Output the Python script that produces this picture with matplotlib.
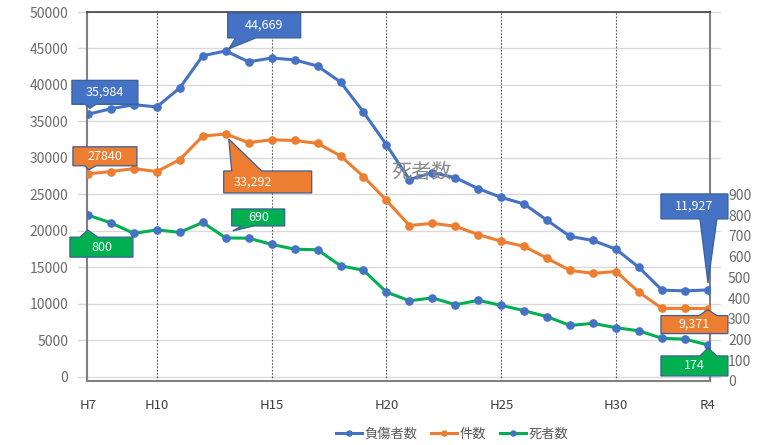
import matplotlib
matplotlib.use("Agg")
import matplotlib.pyplot as plt
from matplotlib.patches import Polygon
from matplotlib.transforms import IdentityTransform

plt.rcParams["font.family"] = ["Noto Sans CJK JP", "DejaVu Sans"]

# ---- data -------------------------------------------------------------
years = ["H7", "H8", "H9", "H10", "H11", "H12", "H13", "H14", "H15", "H16",
         "H17", "H18", "H19", "H20", "H21", "H22", "H23", "H24", "H25", "H26",
         "H27", "H28", "H29", "H30", "R1", "R2", "R3", "R4"]
shown_years = ["H7", "H10", "H15", "H20", "H25", "H30", "R4"]
divider_years = ["H10", "H15", "H20", "H25", "H30"]

injured = [35984, 36750, 37300, 37000, 39600, 44000, 44669, 43170, 43700, 43440,
           42600, 40400, 36300, 31800, 27050, 28000, 27300, 25800, 24600, 23700,
           21450, 19260, 18700, 17500, 15000, 11900, 11800, 11927]
accidents = [27840, 28140, 28550, 28140, 29780, 33000, 33292, 32100, 32500, 32400,
             32000, 30300, 27450, 24200, 20750, 21050, 20650, 19500, 18600, 17900,
             16250, 14600, 14200, 14450, 11600, 9400, 9400, 9371]
deaths = [800, 763, 712, 729, 717, 765, 690, 689, 659, 636,
          633, 556, 534, 429, 387, 401, 368, 389, 365, 339,
          310, 268, 278, 257, 242, 206, 202, 174]

left_ticks = list(range(0, 50001, 5000))
right_ticks = list(range(0, 901, 100))

BLUE = "#4472C4"
ORANGE = "#ED7D31"
GREEN = "#00B050"
EDGE = "#3A5F9A"

W, H = 769, 445
fig = plt.figure(figsize=(W / 100, H / 100), dpi=100)
L, R, T, B = 87, 710, 12, 381
ax = fig.add_axes([L / W, 1 - B / H, (R - L) / W, (B - T) / H])
ax2 = ax.twinx()

x = list(range(len(years)))

ax.set_xlim(-0.04, len(years) - 1 + 0.09)
ax.set_ylim(-548, 50000)
ax2.set_ylim(0, 1780)

# horizontal grid reaching a little past the plot frame
for t in left_ticks:
    ax.plot([-0.0145, 1.016], [t, t], transform=ax.get_yaxis_transform(),
            color="#D9D9D9", lw=1.0, clip_on=False, zorder=0.5)
for yr in divider_years:
    ax.axvline(years.index(yr), color="#595959", lw=0.8,
               linestyle=(0, (1.5, 1.5)), zorder=0.6)

ax.plot(x, injured, color=BLUE, lw=2.2, marker="o", ms=5.2,
        mfc=BLUE, mec=BLUE, zorder=3, label="負傷者数")
ax.plot(x, accidents, color=ORANGE, lw=2.2, marker="o", ms=5.2,
        mfc=ORANGE, mec=ORANGE, zorder=3, label="件数")
ax2.plot(x, deaths, color=GREEN, lw=2.2, marker="o", ms=5.2,
         mfc=BLUE, mec=BLUE, zorder=3, label="死者数")

# axes styling
ax.set_xticks([years.index(y) for y in shown_years])
ax.set_xticklabels(shown_years)
ax.tick_params(axis="x", length=0, pad=13, labelsize=9.5, labelcolor="#404040")
ax.set_yticks(left_ticks)
ax.tick_params(axis="y", length=0, pad=13.5, labelsize=10, labelcolor="#6B6B6B")
ax2.set_yticks(right_ticks)
ax2.tick_params(axis="y", length=0, pad=13, labelsize=10, labelcolor="#6B6B6B")

for s in ax2.spines.values():
    s.set_visible(False)
ax.spines["top"].set_color("#404040")
ax.spines["top"].set_linewidth(1.2)
for side in ("left", "right", "bottom"):
    ax.spines[side].set_color("#808080")
    ax.spines[side].set_linewidth(1.5)

# stray axis title inside the plot
fig.text(422 / W, 1 - 173 / H, "死者数", fontsize=14.5, color="#8A8A8A",
         ha="center", va="center")

# legend
h1, l1 = ax.get_legend_handles_labels()
h2, l2 = ax2.get_legend_handles_labels()
fig.legend(h1 + h2, l1 + l2, loc="center", bbox_to_anchor=(452 / W, 1 - 434 / H),
           ncol=3, frameon=False, fontsize=9.5, handlelength=2.0, markerscale=0.7,
           handletextpad=0.2, columnspacing=1.0, labelcolor="#595959")


# ---- callouts ---------------------------------------------------------
def callout(axis, i, v, text, face, box, base, tip, edge="top", text_dx=None):
    """Box with a pointer; offsets in pixels from the point, y downward."""
    px, py = axis.transData.transform((i, v))

    def P(dx, dy):
        return (px + dx, py - dy)

    x0, y0, x1, y1 = box
    b0, b1 = base
    if edge == "bottom":
        pts = [P(x0, y0), P(x1, y0), P(x1, y1), P(b1, y1), P(*tip), P(b0, y1), P(x0, y1)]
    else:
        pts = [P(x0, y0), P(b0, y0), P(*tip), P(b1, y0), P(x1, y0), P(x1, y1), P(x0, y1)]
    poly = Polygon(pts, closed=True, facecolor=face, edgecolor=EDGE, lw=0.9,
                   transform=IdentityTransform(), zorder=10)
    fig.add_artist(poly)
    cx = (x0 + x1) / 2 if text_dx is None else text_dx
    cy = (y0 + y1) / 2
    tx, ty = P(cx, cy)
    fig.text(tx / W, ty / H, text, color="white", fontsize=9,
             ha="center", va="center", zorder=11)


i0, i6, iN = 0, 6, len(years) - 1
callout(ax, i0, injured[i0], "35,984", BLUE, (-16, -34, 50, -10), (-3, 8), (2, -6), "bottom")
callout(ax, i0, accidents[i0], "27840", ORANGE, (-15, -27, 49, -8), (-3, 8), (1, -4), "bottom")
callout(ax, i6, injured[i6], "44,669", BLUE, (2, -38, 75, -13), (10, 30), (3, -2), "bottom")
callout(ax, i6, accidents[i6], "33,292", ORANGE, (-2, 37, 86, 59), (6, 36), (3, 5), "top", text_dx=27)
callout(ax2, i0, deaths[i0], "800", GREEN, (-18, 22, 45, 42), (-8, 10), (0, 15), "top")
callout(ax2, i6, deaths[i6], "690", GREEN, (6, -29, 59, -12), (16, 28), (7, -7), "bottom")
callout(ax, iN, injured[iN], "11,927", BLUE, (-47, -96, 20, -71), (-8, 9), (0, -7), "bottom")
callout(ax, iN, accidents[iN], "9,371", ORANGE, (-47, 7, 20, 25), (-9, 9), (0, 1), "top")
callout(ax2, iN, deaths[iN], "174", GREEN, (-47, 11, 20, 31), (-8, 9), (0, 3), "top")

fig.savefig("out.png", dpi=100)
